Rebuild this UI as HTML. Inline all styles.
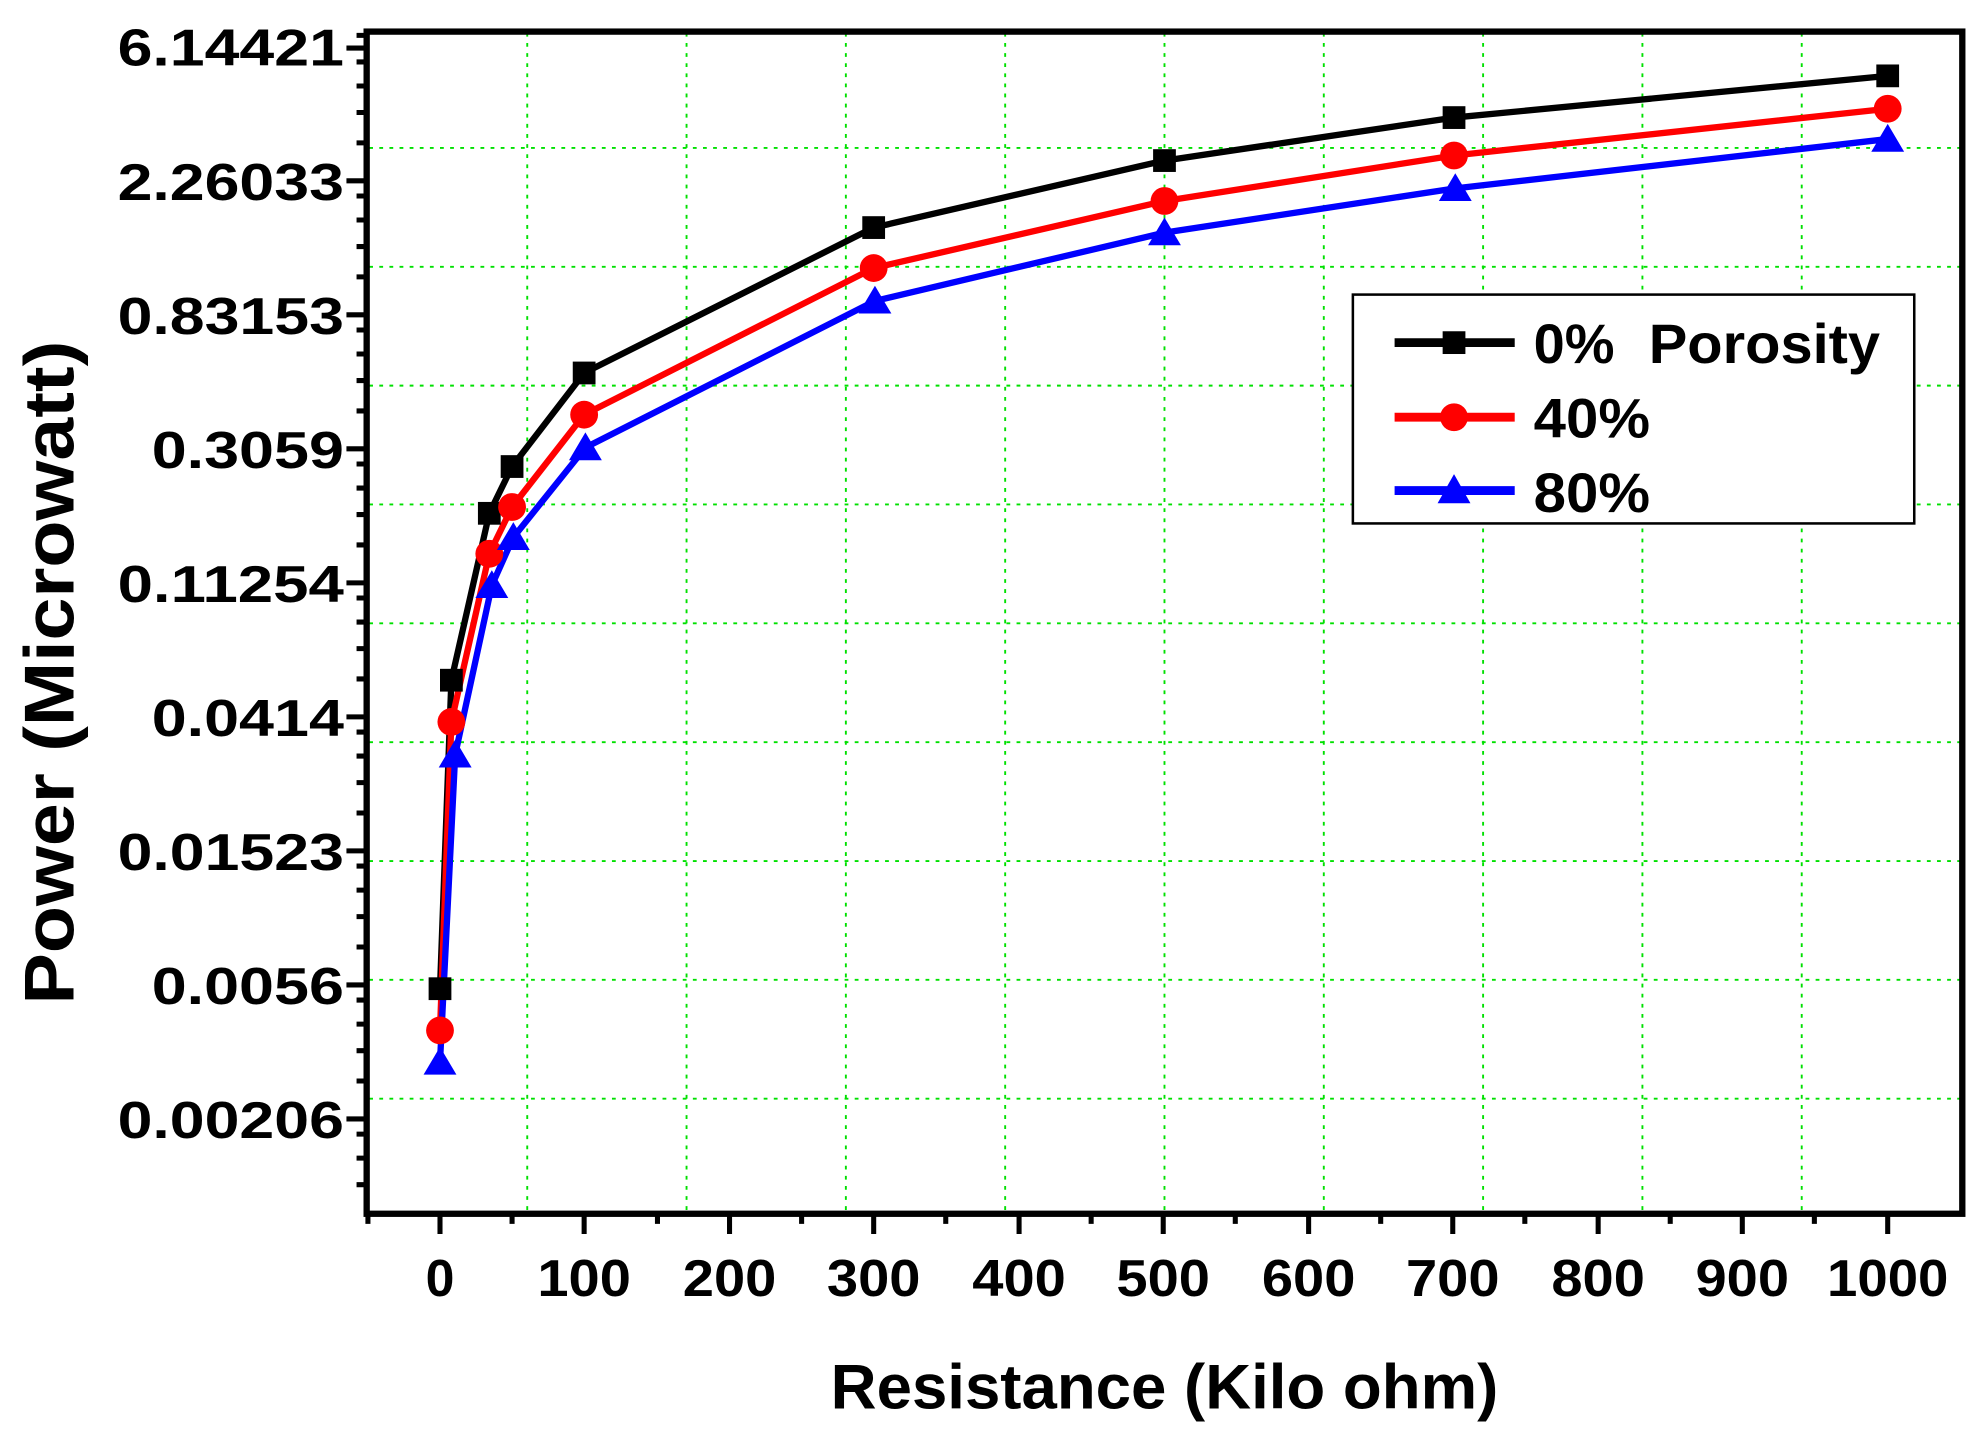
<!DOCTYPE html>
<html><head><meta charset="utf-8"><style>
html,body{margin:0;padding:0;background:#fff;}
svg{display:block;}
text{font-family:"Liberation Sans",Arial,sans-serif;font-weight:bold;fill:#000;}
</style></head><body>
<svg width="1980" height="1433" viewBox="0 0 1566 1133.4" preserveAspectRatio="none" xmlns="http://www.w3.org/2000/svg">
<rect width="1566" height="1134" fill="#fff"/>
<g stroke="#00e000" stroke-width="1.5" stroke-dasharray="3,5">
<line x1="417" y1="26" x2="417" y2="958"/><line x1="543" y1="26" x2="543" y2="958"/>
<line x1="669" y1="26" x2="669" y2="958"/><line x1="795" y1="26" x2="795" y2="958"/>
<line x1="921" y1="26" x2="921" y2="958"/><line x1="1047" y1="26" x2="1047" y2="958"/>
<line x1="1173" y1="26" x2="1173" y2="958"/><line x1="1299" y1="26" x2="1299" y2="958"/>
<line x1="1425" y1="26" x2="1425" y2="958"/>
<line x1="292" y1="117" x2="1551" y2="117"/><line x1="292" y1="211" x2="1551" y2="211"/>
<line x1="292" y1="305" x2="1551" y2="305"/><line x1="292" y1="399" x2="1551" y2="399"/>
<line x1="292" y1="493" x2="1551" y2="493"/><line x1="292" y1="587" x2="1551" y2="587"/>
<line x1="292" y1="681" x2="1551" y2="681"/><line x1="292" y1="775" x2="1551" y2="775"/>
<line x1="292" y1="869" x2="1551" y2="869"/>
</g>
<rect x="290" y="25" width="1262" height="935" fill="none" stroke="#000" stroke-width="5"/>
<g font-size="41" text-anchor="end" lengthAdjust="spacingAndGlyphs">
<text x="272" y="52" textLength="179" lengthAdjust="spacingAndGlyphs">6.14421</text>
<text x="272" y="158" textLength="179" lengthAdjust="spacingAndGlyphs">2.26033</text>
<text x="272" y="264" textLength="179" lengthAdjust="spacingAndGlyphs">0.83153</text>
<text x="272" y="370" textLength="152" lengthAdjust="spacingAndGlyphs">0.3059</text>
<text x="272" y="476" textLength="179" lengthAdjust="spacingAndGlyphs">0.11254</text>
<text x="272" y="582" textLength="152" lengthAdjust="spacingAndGlyphs">0.0414</text>
<text x="272" y="688" textLength="179" lengthAdjust="spacingAndGlyphs">0.01523</text>
<text x="272" y="794" textLength="152" lengthAdjust="spacingAndGlyphs">0.0056</text>
<text x="272" y="900" textLength="179" lengthAdjust="spacingAndGlyphs">0.00206</text>
</g>
<g font-size="41" text-anchor="middle">
<text x="348" y="1025">0</text>
<text x="462" y="1025" textLength="74" lengthAdjust="spacingAndGlyphs">100</text>
<text x="577" y="1025" textLength="74" lengthAdjust="spacingAndGlyphs">200</text>
<text x="691" y="1025" textLength="74" lengthAdjust="spacingAndGlyphs">300</text>
<text x="806" y="1025" textLength="74" lengthAdjust="spacingAndGlyphs">400</text>
<text x="920" y="1025" textLength="74" lengthAdjust="spacingAndGlyphs">500</text>
<text x="1035" y="1025" textLength="74" lengthAdjust="spacingAndGlyphs">600</text>
<text x="1149" y="1025" textLength="74" lengthAdjust="spacingAndGlyphs">700</text>
<text x="1264" y="1025" textLength="74" lengthAdjust="spacingAndGlyphs">800</text>
<text x="1378" y="1025" textLength="74" lengthAdjust="spacingAndGlyphs">900</text>
<text x="1493" y="1025" textLength="96" lengthAdjust="spacingAndGlyphs">1000</text>
</g>
<text x="921" y="1114" font-size="50" text-anchor="middle" textLength="528" lengthAdjust="spacingAndGlyphs">Resistance (Kilo ohm)</text>
<text transform="translate(58,532) rotate(-90)" font-size="56" text-anchor="middle" textLength="525" lengthAdjust="spacingAndGlyphs">Power (Microwatt)</text>
<g fill="none" stroke-width="5" stroke-linejoin="round">
<polyline stroke="#000" points="348,782 357,538 387,406 405,369 462,295 691,180 921,127 1150,93 1493,60"/>
<polyline stroke="#f00" points="348,815 357,571 387,438 405,401 462,328 691,212 921,159 1150,123 1493,86"/>
<polyline stroke="#00f" points="348,840 360,597 389,463 406,425 463,354 692,238 921,184 1151,149 1493,110"/>
</g>
<g fill="#000">
<rect x="339" y="773" width="18" height="18"/><rect x="348" y="529" width="18" height="18"/>
<rect x="378" y="397" width="18" height="18"/><rect x="396" y="360" width="18" height="18"/>
<rect x="453" y="286" width="18" height="18"/><rect x="682" y="171" width="18" height="18"/>
<rect x="912" y="118" width="18" height="18"/><rect x="1141" y="84" width="18" height="18"/>
<rect x="1484" y="51" width="18" height="18"/>
</g>
<g fill="#f00">
<circle cx="348" cy="815" r="11"/><circle cx="357" cy="571" r="11"/><circle cx="387" cy="438" r="11"/>
<circle cx="405" cy="401" r="11"/><circle cx="462" cy="328" r="11"/><circle cx="691" cy="212" r="11"/>
<circle cx="921" cy="159" r="11"/><circle cx="1150" cy="123" r="11"/><circle cx="1493" cy="86" r="11"/>
</g>
<g fill="#00f">
<polygon points="348,828 361,850 335,850"/><polygon points="360,585 373,607 347,607"/>
<polygon points="389,451 402,473 376,473"/><polygon points="406,413 419,435 393,435"/>
<polygon points="463,342 476,364 450,364"/><polygon points="692,226 705,248 679,248"/>
<polygon points="921,172 934,194 908,194"/><polygon points="1151,137 1164,159 1138,159"/>
<polygon points="1493,98 1506,120 1480,120"/>
</g>
<rect x="1070" y="233" width="444" height="181" fill="#fff" stroke="#000" stroke-width="2"/>
<line x1="1103" y1="271" x2="1198" y2="271" stroke="#000" stroke-width="7"/>
<rect x="1141" y="262" width="18" height="18" fill="#000"/>
<line x1="1103" y1="330" x2="1198" y2="330" stroke="#f00" stroke-width="7"/>
<circle cx="1150" cy="330" r="11" fill="#f00"/>
<line x1="1103" y1="388" x2="1198" y2="388" stroke="#00f" stroke-width="7"/>
<polygon points="1150,375 1163,398 1137,398" fill="#00f"/>
<g font-size="44">
<text x="1213" y="287" textLength="64" lengthAdjust="spacingAndGlyphs">0%</text>
<text x="1304" y="287" textLength="183" lengthAdjust="spacingAndGlyphs">Porosity</text>
<text x="1213" y="346" textLength="92" lengthAdjust="spacingAndGlyphs">40%</text>
<text x="1213" y="405" textLength="92" lengthAdjust="spacingAndGlyphs">80%</text>
</g>
<g stroke="#000" stroke-width="4">
<path d="M290,38h-16M290,143h-16M290,249h-16M290,355h-16M290,461h-16M290,567h-16M290,673h-16M290,779h-16M290,885h-16"/>
<path d="M348,960v16M462,960v16M577,960v16M691,960v16M806,960v16M920,960v16M1035,960v16M1149,960v16M1264,960v16M1378,960v16M1493,960v16"/>
<path d="M291,960v8M405,960v8M520,960v8M634,960v8M748,960v8M863,960v8M977,960v8M1092,960v8M1206,960v8M1321,960v8M1435,960v8"/>
<path d="M290,49h-8M290,68h-8M290,89h-8M290,113h-8M290,155h-8M290,174h-8M290,195h-8M290,219h-8M290,261h-8M290,280h-8M290,301h-8M290,325h-8M290,367h-8M290,386h-8M290,407h-8M290,431h-8M290,473h-8M290,492h-8M290,513h-8M290,537h-8M290,579h-8M290,598h-8M290,619h-8M290,643h-8M290,685h-8M290,704h-8M290,725h-8M290,749h-8M290,791h-8M290,810h-8M290,831h-8M290,855h-8M290,897h-8M290,916h-8M290,937h-8M290,28h-8"/>
</g>
</svg>
</body></html>
